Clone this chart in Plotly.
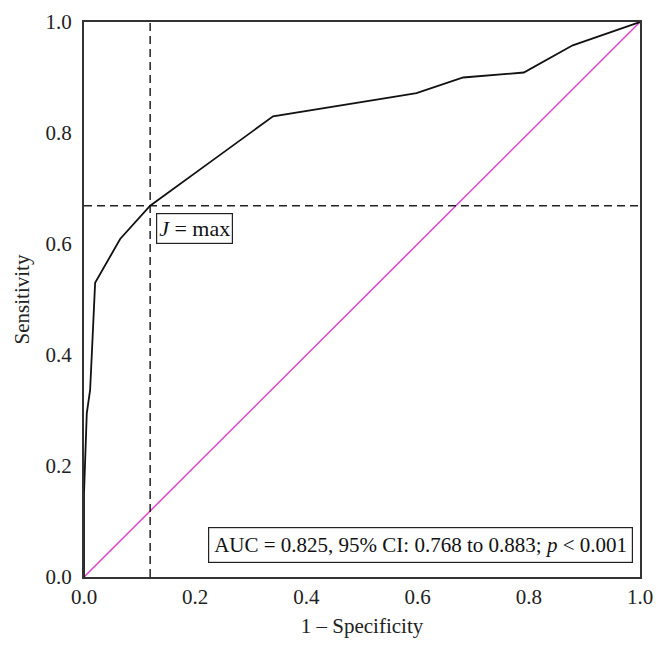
import plotly.graph_objects as go

# ROC curve data
fpr = [0.0, 0.0, 0.005, 0.011, 0.014, 0.020, 0.065, 0.119, 0.233, 0.340, 0.568, 0.598, 0.682, 0.791, 0.879, 1.0]
tpr = [0.0, 0.15, 0.295, 0.337, 0.40, 0.530, 0.609, 0.669, 0.752, 0.830, 0.867, 0.872, 0.900, 0.909, 0.958, 1.0]
ref_x = [0.0, 1.0]
ref_y = [0.0, 1.0]
j_x = 0.119
j_y = 0.669
tick_vals = [0.0, 0.2, 0.4, 0.6, 0.8, 1.0]
tick_text = ["0.0", "0.2", "0.4", "0.6", "0.8", "1.0"]

FONT = "Liberation Serif, DejaVu Serif, serif"

fig = go.Figure()
fig.add_trace(go.Scatter(x=ref_x, y=ref_y, mode="lines",
                         line=dict(color="#e044c8", width=1.5), showlegend=False))
fig.add_trace(go.Scatter(x=[j_x, j_x], y=[0, 1], mode="lines",
                         line=dict(color="#222222", width=1.5, dash="8px,5px"), showlegend=False))
fig.add_trace(go.Scatter(x=[0, 1], y=[j_y, j_y], mode="lines",
                         line=dict(color="#222222", width=1.5, dash="8px,5px"), showlegend=False))
fig.add_trace(go.Scatter(x=fpr, y=tpr, mode="lines",
                         line=dict(color="#111111", width=1.8), showlegend=False))

fig.add_annotation(x=j_x, y=j_y, xref="x", yref="y", text="<i>J</i> = max",
                   showarrow=False, xanchor="left", yanchor="top", xshift=6, yshift=-7,
                   font=dict(family=FONT, size=22, color="#111"),
                   bordercolor="#222", borderwidth=1.2, borderpad=2, bgcolor="white")
fig.add_annotation(x=0.987, y=0.026, xref="x", yref="y",
                   text="AUC = 0.825, 95% CI: 0.768 to 0.883; <i>p</i> < 0.001",
                   showarrow=False, xanchor="right", yanchor="bottom",
                   font=dict(family=FONT, size=21, color="#111"),
                   bordercolor="#222", borderwidth=1.2, borderpad=5, bgcolor="white")

axis_common = dict(range=[0, 1], tickvals=tick_vals, ticktext=tick_text,
                   showgrid=False, zeroline=False, showline=True, mirror=True,
                   linecolor="#333333", linewidth=2, ticks="", automargin=False,
                   tickfont=dict(family=FONT, size=21, color="#222"),
                   fixedrange=True)
fig.update_layout(
    width=658, height=646,
    margin=dict(l=76, r=26, t=14, b=77),
    plot_bgcolor="white", paper_bgcolor="white",
    xaxis=dict(**axis_common, title=dict(text="1 – Specificity",
               font=dict(family=FONT, size=21, color="#222"), standoff=10)),
    yaxis=dict(**axis_common, ticklabelstandoff=6, title=dict(text="Sensitivity",
               font=dict(family=FONT, size=21, color="#222"), standoff=10)),
)
fig.write_html("out.html")
